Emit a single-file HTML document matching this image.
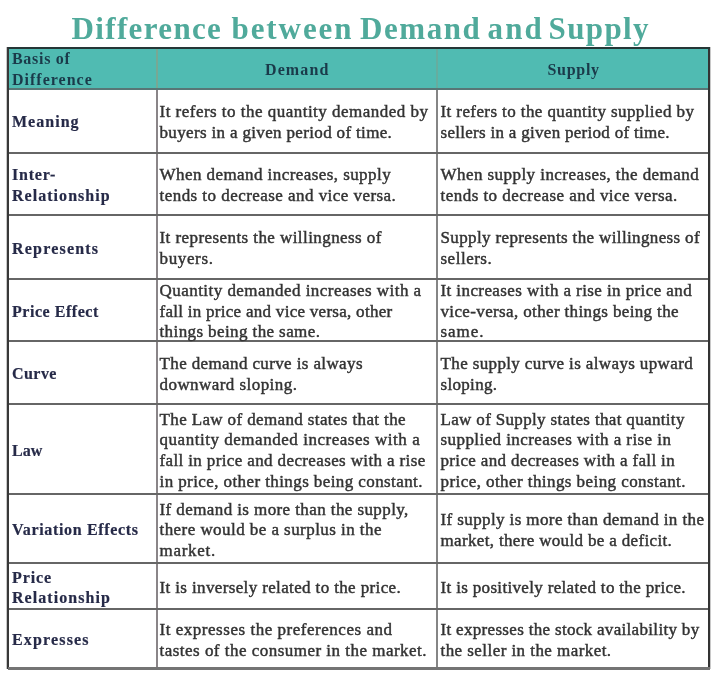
<!DOCTYPE html>
<html><head><meta charset="utf-8">
<style>
html,body{margin:0;padding:0;background:#fff;}
body{width:720px;height:679px;position:relative;overflow:hidden;font-family:"Liberation Serif",serif;}
.title{position:absolute;left:71.5px;top:11.5px;font-size:31px;font-weight:bold;color:#50aa9b;letter-spacing:1.26px;white-space:nowrap;line-height:34px;}
.hdr{position:absolute;left:8px;top:47px;width:701px;height:42px;background:#50bbb2;}
.h{position:absolute;background:#666;height:2px;left:8px;width:701px;}
.v{position:absolute;background:#8a8588;width:2px;}
.c{position:absolute;display:flex;align-items:center;font-size:17px;line-height:20.6px;letter-spacing:0.45px;color:#333;white-space:nowrap;transform:translateY(1.8px);-webkit-text-stroke:0.45px #333;}
.c span{display:block;}
.c1{left:12px;width:144px;font-size:16px;font-weight:bold;color:#262a48;letter-spacing:0.8px;-webkit-text-stroke:0.2px #262a48;}
.c2{left:159.5px;width:276px;}
.c3{left:440.5px;width:268px;}
.hd{position:absolute;font-size:16px;font-weight:bold;color:#1a3a4a;letter-spacing:0.7px;line-height:21px;white-space:nowrap;}
</style></head><body>
<div id="w" style="position:absolute;left:0;top:0;width:720px;height:679px;filter:blur(0.3px)">
<div class="title" style="left:71.5px;letter-spacing:1.36px">Difference</div>
<div class="title" style="left:231.5px;letter-spacing:1.93px">between</div>
<div class="title" style="left:360px;letter-spacing:1.56px">Demand</div>
<div class="title" style="left:487.5px;letter-spacing:2.16px">and</div>
<div class="title" style="left:548.5px;letter-spacing:1.4px">Supply</div>
<div class="hdr"></div>
<div class="hd" style="left:12px;top:48px;">Basis of<br><span style="letter-spacing:1.0px">Difference</span></div>
<div class="hd" style="left:265px;top:58.5px;letter-spacing:1.1px">Demand</div>
<div class="hd" style="left:547.5px;top:58.5px;">Supply</div>
<div class="v" style="left:155.5px;top:48px;height:40px;background:#78a894"></div>
<div class="v" style="left:155.5px;top:90px;height:578px;background:#8a8588"></div>
<div class="v" style="left:436px;top:48px;height:40px;background:#66ad9f"></div>
<div class="v" style="left:436px;top:90px;height:578px;background:#858585"></div>
<div class="h" style="top:88px;background:#587676"></div>
<div class="h" style="top:151.6px"></div>
<div class="h" style="top:214.3px"></div>
<div class="h" style="top:277.6px"></div>
<div class="h" style="top:340.2px"></div>
<div class="h" style="top:403.1px"></div>
<div class="h" style="top:493.0px"></div>
<div class="h" style="top:562.3px"></div>
<div class="h" style="top:608.4px"></div>
<div style="position:absolute;left:7px;top:47px;width:2px;height:622px;background:#383838"></div>
<div style="position:absolute;left:6px;top:47px;width:1px;height:622px;background:#c8c8c8"></div>
<div style="position:absolute;left:708px;top:47px;width:2px;height:622px;background:#333"></div>
<div style="position:absolute;left:710px;top:47px;width:1px;height:622px;background:#c8c8c8"></div>
<div style="position:absolute;left:7.5px;top:46.5px;width:702px;height:2px;background:#253636"></div>
<div style="position:absolute;left:8px;top:667px;width:702px;height:3px;background:#747474"></div>
<div class="c c1" style="top:89.0px;height:63.1px"><div><span style="letter-spacing:1.017px">Meaning</span></div></div>
<div class="c c2" style="top:89.0px;height:63.1px"><div><span style="letter-spacing:0.48px">It refers to the quantity demanded by</span><span style="letter-spacing:0.341px">buyers in a given period of time.</span></div></div>
<div class="c c3" style="top:89.0px;height:63.1px"><div><span style="letter-spacing:0.403px">It refers to the quantity supplied by</span><span style="letter-spacing:0.289px">sellers in a given period of time.</span></div></div>
<div class="c c1" style="top:153.1px;height:61.7px"><div><span style="letter-spacing:0.8px">Inter-</span><span style="letter-spacing:1.036px">Relationship</span></div></div>
<div class="c c2" style="top:153.1px;height:61.7px"><div><span style="letter-spacing:0.432px">When demand increases, supply</span><span style="letter-spacing:0.454px">tends to decrease and vice versa.</span></div></div>
<div class="c c3" style="top:153.1px;height:61.7px"><div><span style="letter-spacing:0.441px">When supply increases, the demand</span><span style="letter-spacing:0.466px">tends to decrease and vice versa.</span></div></div>
<div class="c c1" style="top:215.8px;height:62.3px"><div><span style="letter-spacing:1.2px">Represents</span></div></div>
<div class="c c2" style="top:215.8px;height:62.3px"><div><span style="letter-spacing:0.427px">It represents the willingness of</span><span style="letter-spacing:0.634px">buyers.</span></div></div>
<div class="c c3" style="top:215.8px;height:62.3px"><div><span style="letter-spacing:0.362px">Supply represents the willingness of</span><span style="letter-spacing:0.506px">sellers.</span></div></div>
<div class="c c1" style="top:279.1px;height:61.6px"><div><span style="letter-spacing:0.537px">Price Effect</span></div></div>
<div class="c c2" style="top:279.1px;height:61.6px"><div><span style="letter-spacing:0.462px">Quantity demanded increases with a</span><span style="letter-spacing:0.276px">fall in price and vice versa, other</span><span style="letter-spacing:0.398px">things being the same.</span></div></div>
<div class="c c3" style="top:279.1px;height:61.6px"><div><span style="letter-spacing:0.408px">It increases with a rise in price and</span><span style="letter-spacing:0.362px">vice-versa, other things being the</span><span style="letter-spacing:0.925px">same.</span></div></div>
<div class="c c1" style="top:341.7px;height:61.9px"><div><span style="letter-spacing:0.45px">Curve</span></div></div>
<div class="c c2" style="top:341.7px;height:61.9px"><div><span style="letter-spacing:0.378px">The demand curve is always</span><span style="letter-spacing:0.444px">downward sloping.</span></div></div>
<div class="c c3" style="top:341.7px;height:61.9px"><div><span style="letter-spacing:0.372px">The supply curve is always upward</span><span style="letter-spacing:0.321px">sloping.</span></div></div>
<div class="c c1" style="top:404.6px;height:88.9px"><div><span style="letter-spacing:0.05px">Law</span></div></div>
<div class="c c2" style="top:404.6px;height:88.9px"><div><span style="letter-spacing:0.372px">The Law of demand states that the</span><span style="letter-spacing:0.532px">quantity demanded increases with a</span><span style="letter-spacing:0.373px">fall in price and decreases with a rise</span><span style="letter-spacing:0.409px">in price, other things being constant.</span></div></div>
<div class="c c3" style="top:404.6px;height:88.9px"><div><span style="letter-spacing:0.338px">Law of Supply states that quantity</span><span style="letter-spacing:0.428px">supplied increases with a rise in</span><span style="letter-spacing:0.344px">price and decreases with a fall in</span><span style="letter-spacing:0.43px">price, other things being constant.</span></div></div>
<div class="c c1" style="top:494.5px;height:68.3px"><div><span style="letter-spacing:0.669px">Variation Effects</span></div></div>
<div class="c c2" style="top:494.5px;height:68.3px"><div><span style="letter-spacing:0.407px">If demand is more than the supply,</span><span style="letter-spacing:0.444px">there would be a surplus in the</span><span style="letter-spacing:0.7px">market.</span></div></div>
<div class="c c3" style="top:494.5px;height:68.3px"><div><span style="letter-spacing:0.391px">If supply is more than demand in the</span><span style="letter-spacing:0.338px">market, there would be a deficit.</span></div></div>
<div class="c c1" style="top:563.8px;height:45.1px"><div><span style="letter-spacing:0.9px">Price</span><span style="letter-spacing:1.063px">Relationship</span></div></div>
<div class="c c2" style="top:563.8px;height:45.1px"><div><span style="letter-spacing:0.367px">It is inversely related to the price.</span></div></div>
<div class="c c3" style="top:563.8px;height:45.1px"><div><span style="letter-spacing:0.333px">It is positively related to the price.</span></div></div>
<div class="c c1" style="top:609.9px;height:57.6px"><div><span style="letter-spacing:1.161px">Expresses</span></div></div>
<div class="c c2" style="top:609.9px;height:57.6px"><div><span style="letter-spacing:0.528px">It expresses the preferences and</span><span style="letter-spacing:0.48px">tastes of the consumer in the market.</span></div></div>
<div class="c c3" style="top:609.9px;height:57.6px"><div><span style="letter-spacing:0.318px">It expresses the stock availability by</span><span style="letter-spacing:0.441px">the seller in the market.</span></div></div>
</div></body></html>
